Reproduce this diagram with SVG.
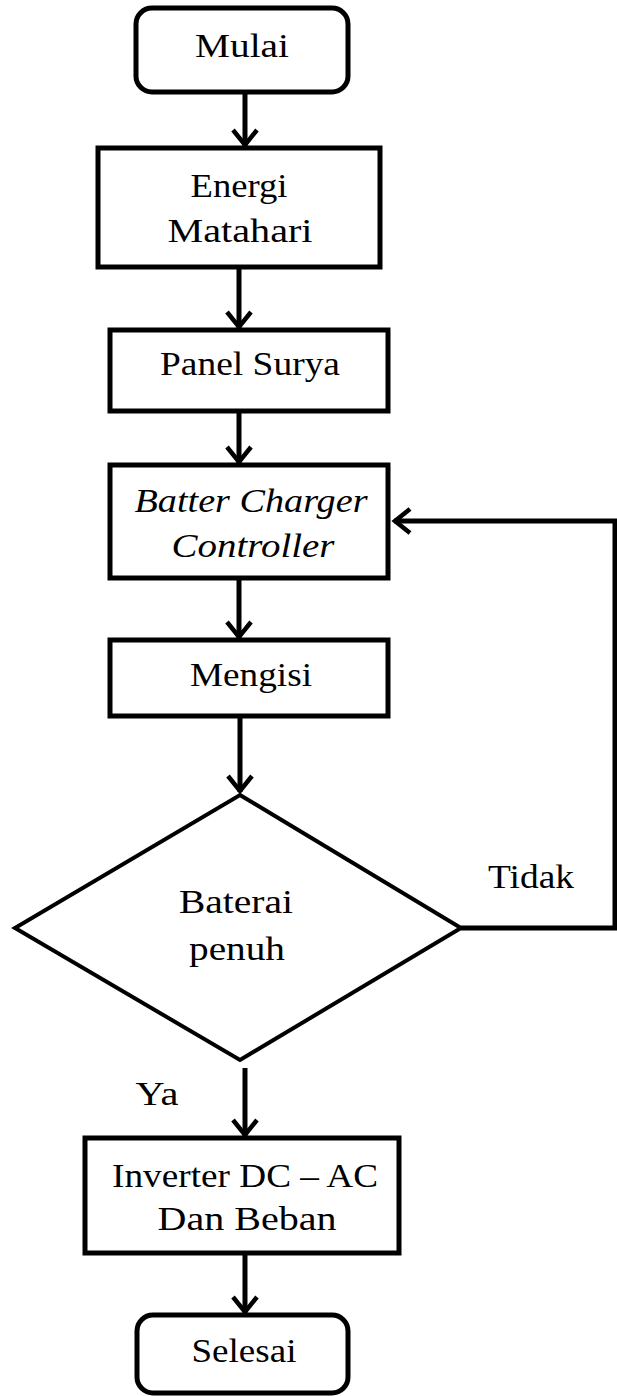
<svg xmlns="http://www.w3.org/2000/svg" width="617" height="1396" viewBox="0 0 617 1396">
  <style>
    .box { fill: #fff; stroke: #000; stroke-width: 5; }
    .dia { fill: #fff; stroke: #000; stroke-width: 4; }
    .lbl { font-family: "Liberation Serif", "Times New Roman", serif; font-size: 34px; fill: #000; text-anchor: middle; }
    .it { font-style: italic; }
    .wire { fill: none; stroke: #000; stroke-width: 5; }
  </style>
  <defs>
    <marker id="chev" viewBox="-20 -16 24 32" refX="0" refY="0" markerWidth="24" markerHeight="32" markerUnits="userSpaceOnUse" orient="auto">
      <path d="M-16,-12 L-1,0 L-16,12" fill="none" stroke="#000" stroke-width="4.5"/>
    </marker>
  </defs>
  <rect width="617" height="1396" fill="#fff"/>

  <g id="connectors">
    <line class="wire" x1="245" y1="92" x2="245" y2="146" marker-end="url(#chev)"/>
    <line class="wire" x1="239" y1="267" x2="239" y2="328" marker-end="url(#chev)"/>
    <line class="wire" x1="239" y1="411" x2="239" y2="463" marker-end="url(#chev)"/>
    <line class="wire" x1="239" y1="578" x2="239" y2="638" marker-end="url(#chev)"/>
    <line class="wire" x1="240" y1="716" x2="240" y2="792" marker-end="url(#chev)"/>
    <line class="wire" x1="245" y1="1068" x2="245" y2="1136" marker-end="url(#chev)"/>
    <line class="wire" x1="245" y1="1253" x2="245" y2="1313" marker-end="url(#chev)"/>
    <polyline class="wire" points="461,928 615,928 615,521 394,521" marker-end="url(#chev)"/>
    <text class="lbl" x="531" y="888" textLength="86" lengthAdjust="spacingAndGlyphs">Tidak</text>
    <text class="lbl" x="157" y="1105" textLength="43" lengthAdjust="spacingAndGlyphs">Ya</text>
  </g>

  <g id="mulai">
    <rect class="box" x="136" y="8" width="212" height="84" rx="16"/>
    <text class="lbl" x="242" y="57" textLength="94" lengthAdjust="spacingAndGlyphs">Mulai</text>
  </g>

  <g id="energi">
    <rect class="box" x="98" y="148" width="282" height="119"/>
    <text class="lbl" x="239" y="197" textLength="97" lengthAdjust="spacingAndGlyphs">Energi</text>
    <text class="lbl" x="240" y="242" textLength="145" lengthAdjust="spacingAndGlyphs">Matahari</text>
  </g>

  <g id="panel">
    <rect class="box" x="110" y="330" width="278" height="81"/>
    <text class="lbl" x="250" y="375" textLength="180" lengthAdjust="spacingAndGlyphs">Panel Surya</text>
  </g>

  <g id="controller">
    <rect class="box" x="110" y="465" width="278" height="113"/>
    <text class="lbl it" x="251" y="512" textLength="233" lengthAdjust="spacingAndGlyphs">Batter Charger</text>
    <text class="lbl it" x="253" y="557" textLength="163" lengthAdjust="spacingAndGlyphs">Controller</text>
  </g>

  <g id="mengisi">
    <rect class="box" x="110" y="640" width="278" height="76"/>
    <text class="lbl" x="251" y="686" textLength="122" lengthAdjust="spacingAndGlyphs">Mengisi</text>
  </g>

  <g id="baterai">
    <polygon class="dia" points="240,795 461,928 240,1060 15,928"/>
    <text class="lbl" x="236" y="913" textLength="114" lengthAdjust="spacingAndGlyphs">Baterai</text>
    <text class="lbl" x="237" y="960" textLength="96" lengthAdjust="spacingAndGlyphs">penuh</text>
  </g>

  <g id="inverter">
    <rect class="box" x="85" y="1138" width="314" height="115"/>
    <text class="lbl" x="245" y="1187" textLength="266" lengthAdjust="spacingAndGlyphs">Inverter DC – AC</text>
    <text class="lbl" x="247" y="1230" textLength="179" lengthAdjust="spacingAndGlyphs">Dan Beban</text>
  </g>

  <g id="selesai">
    <rect class="box" x="137" y="1315" width="211" height="78" rx="16"/>
    <text class="lbl" x="244" y="1362" textLength="105" lengthAdjust="spacingAndGlyphs">Selesai</text>
  </g>
</svg>
